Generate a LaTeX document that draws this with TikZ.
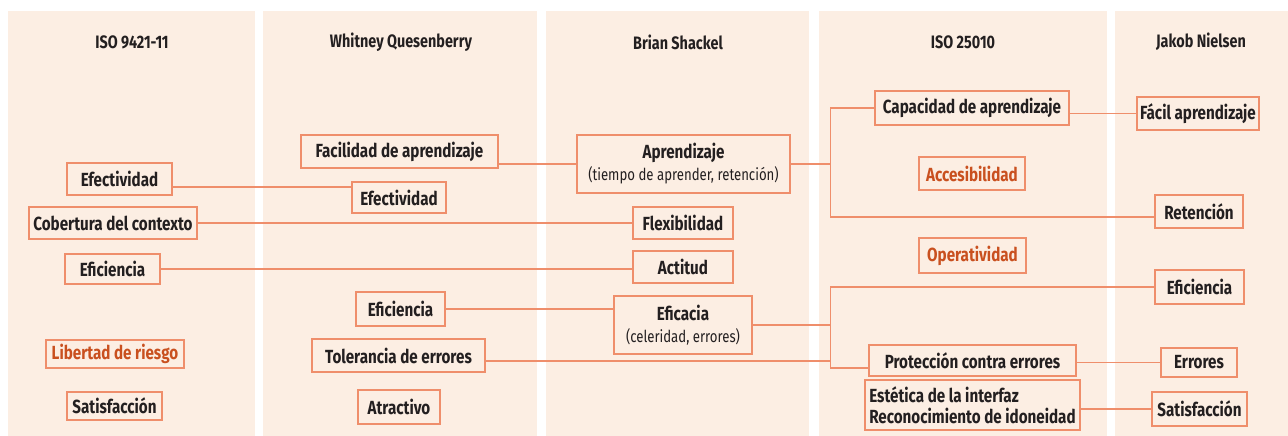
\documentclass[tikz,border=0pt]{standalone}
\usepackage{fontspec}
\setmainfont{Fira Sans}[FakeStretch=0.80]
\usetikzlibrary{calc}
\definecolor{panel}{HTML}{FCEEE3}
\definecolor{edge}{HTML}{EF8E6B}
\definecolor{ink}{HTML}{231F20}
\definecolor{accent}{HTML}{C9501F}
\newcommand\subline{\mdseries\fontsize{16.5}{18}\selectfont}
\begin{document}
\begin{tikzpicture}[x=1pt,y=-1pt,
  panelbox/.style={fill=panel,draw=none},
  head/.style={font=\bfseries\fontsize{18}{20}\selectfont,text=ink},
  box/.style={draw=edge,line width=1.1pt,fill=panel,inner sep=0pt,
    font=\bfseries\fontsize{19}{20}\selectfont,text=ink,align=center},
  sz/.style 2 args={minimum width=#1pt,minimum height=#2pt},
  hot/.style={text=accent},
  link/.style={draw=edge,line width=1.1pt}]
\useasboundingbox (0,0) rectangle (1288,436);
\fill[white] (0,0) rectangle (1288,436);

% column panels
\fill[panelbox] (8,11) rectangle (255,436);
\fill[panelbox] (263,11) rectangle (537,436);
\fill[panelbox] (546,11) rectangle (809,436);
\fill[panelbox] (819,11) rectangle (1107,436);
\fill[panelbox] (1115,11) rectangle (1288,436);

% column headings
\node[head] (h1) at (132,42) {ISO 9421-11};
\node[head] (h2) at (401,42) {Whitney Quesenberry};
\node[head] (h3) at (678,42) {Brian Shackel};
\node[head] (h4) at (963,42) {ISO 25010};
\node[head] (h5) at (1201,42) {Jakob Nielsen};

% ISO 9421-11
\node[box,sz={105}{32}] (e1) at (119.5,179) {Efectividad};
\node[box,sz={168}{32}] (cob) at (113,223) {Cobertura del contexto};
\node[box,sz={95}{30}] (ef1) at (112.5,269) {Eficiencia};
\node[box,hot,sz={138}{28}] (lib) at (115,354) {Libertad de riesgo};
\node[box,sz={95}{28}] (sat1) at (114.5,406) {Satisfacción};

% Whitney Quesenberry
\node[box,sz={197}{33}] (fac) at (399.5,151.5) {Facilidad de aprendizaje};
\node[box,sz={94}{31}] (e2) at (399,197.5) {Efectividad};
\node[box,sz={89}{34}] (ef2) at (400.5,309) {Eficiencia};
\node[box,sz={173}{33}] (tol) at (398.5,355.5) {Tolerancia de errores};
\node[box,sz={82}{34}] (atr) at (399,407) {Atractivo};

% Brian Shackel
\node[box,sz={213}{58}] (apr) at (683.5,164) {Aprendizaje\\[2pt]{\subline(tiempo de aprender, retención)}};
\node[box,sz={100}{32}] (flex) at (683,223) {Flexibilidad};
\node[box,sz={100}{32}] (act) at (683,267) {Actitud};
\node[box,sz={138}{58}] (efic) at (683,325) {Eficacia\\[2pt]{\subline(celeridad, errores)}};

% ISO 25010
\node[box,sz={194}{34}] (cap) at (972,108) {Capacidad de aprendizaje};
\node[box,hot,sz={106}{33}] (acc) at (972,173.5) {Accesibilidad};
\node[box,hot,sz={107}{35}] (ope) at (972.5,255.5) {Operatividad};
\node[box,sz={207}{31}] (prot) at (972.5,360.5) {Protección contra errores};
\node[box,sz={215}{50},align=left] (est) at (972.5,405) {Estética de la interfaz\\[1pt]Reconocimiento de idoneidad};

% Jakob Nielsen
\node[box,sz={122}{33}] (facil) at (1198,113.5) {Fácil aprendizaje};
\node[box,sz={88}{33}] (ret) at (1199,211.5) {Retención};
\node[box,sz={89}{34}] (ef5) at (1199.5,287) {Eficiencia};
\node[box,sz={76}{29}] (err) at (1199,362.5) {Errores};
\node[box,sz={95}{34}] (sat5) at (1199.5,409) {Satisfacción};

% junction points of the two branching connectors
\coordinate (j1) at ($(apr.east)+(40,0)$);
\coordinate (j2) at (j1 |- efic.east);
\coordinate (l1) at ([yshift=-8pt]e1.east);
\coordinate (t1) at ([yshift=-5.5pt]tol.east);

% connectors
\draw[link] (l1) -- (l1 -| e2.west);
\draw[link] (cob.east) -- (cob.east -| flex.west);
\draw[link] (ef1.east) -- (ef1.east -| act.west);
\draw[link] (fac.east |- apr.west) -- (apr.west);
\draw[link] (apr.east) -- (j1);
\draw[link] (cap.west) -| (j1) |- ([yshift=-5.5pt]ret.west);
\draw[link] (cap.east |- facil.west) -- (facil.west);
\draw[link] (ef2.east) -- (ef2.east -| efic.west);
\draw[link] (efic.east) -- (j2);
\draw[link] (ef5.west) -| (j2) |- ([yshift=-7.5pt]prot.west);
\draw[link] (t1) -- (t1 -| j2);
\draw[link] (prot.east |- err.west) -- (err.west);
\draw[link] (est.east |- sat5.west) -- (sat5.west);
\end{tikzpicture}
\end{document}
